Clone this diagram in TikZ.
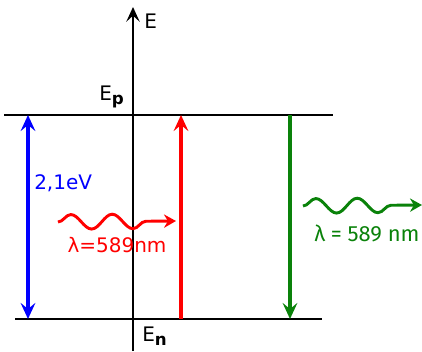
\documentclass[tikz,border=0pt]{standalone}
\usepackage{fontspec}
\setmainfont{DejaVu Sans}
\newfontfamily\labelfont{Fira Sans}
\usetikzlibrary{arrows.meta,decorations.pathmorphing}
\definecolor{levelgreen}{HTML}{0A820A}
\newcommand{\lowsub}[1]{\raisebox{-0.45ex}{\fontsize{12.5}{12}\selectfont\bfseries #1}}

\begin{document}
\begin{tikzpicture}[x=0.75pt,y=-0.75pt,font=\fontsize{15}{17}\selectfont,
    level/.style={line width=1.8pt},
    trans/.style={line width=2.6pt,-{Stealth[length=12pt,width=11pt,inset=4.5pt]}},
    photon/.style={line width=2.2pt,decorate,
      decoration={snake,segment length=31pt,amplitude=5.5pt,post length=18pt},
      -{Stealth[length=9pt,width=10pt,inset=3pt]}}]
  \useasboundingbox (0,0) rectangle (422,351);
  % energy axis
  \coordinate (axb) at (133,351);
  \coordinate (axt) at (133,7);
  \draw[line width=1.8pt,-{Stealth[length=11pt,width=10pt,inset=4.5pt]}] (axb) -- (axt);
  \node[anchor=west,inner sep=0] (E) at (144,21) {E};
  % levels
  \coordinate (upL) at (4,115);   \coordinate (upR) at (333,115);
  \coordinate (loL) at (15,319);  \coordinate (loR) at (322,319);
  \draw[level] (upL) -- (upR);
  \draw[level] (loL) -- (loR);
  \node[anchor=base west,inner sep=0] (Ep) at (99,100) {E\lowsub{p}};
  \node[anchor=base west,inner sep=0] (En) at (142,341) {E\lowsub{n}};
  % energy gap
  \coordinate (bT) at (28,115);  \coordinate (bB) at (28,319);
  \draw[trans,blue,{Stealth[length=12pt,width=11pt,inset=4.5pt]}-{Stealth[length=12pt,width=11pt,inset=4.5pt]}] (bB) -- (bT);
  \node[blue,anchor=west,inner sep=0] (gap) at (34,183) {2,1eV};
  % absorption
  \coordinate (rB) at (181,319);  \coordinate (rT) at (181,115);
  \draw[trans,red] (rB) -- (rT);
  \coordinate (w1) at (58,222);  \coordinate (w2) at (176,221);
  \draw[photon,red] (w1) -- (w2);
  \node[red,inner sep=0] (lred) at (117,245) {λ=589nm};
  % emission
  \coordinate (gT) at (290,115);  \coordinate (gB) at (290,319);
  \draw[trans,levelgreen] (gT) -- (gB);
  \coordinate (v1) at (303,206);  \coordinate (v2) at (422,205);
  \draw[photon,levelgreen] (v1) -- (v2);
  \node[levelgreen,anchor=west,inner sep=0,font=\labelfont\fontsize{16.5}{18}\selectfont] (lgreen) at (314,233) {λ = 589 nm};
\end{tikzpicture}
\end{document}
